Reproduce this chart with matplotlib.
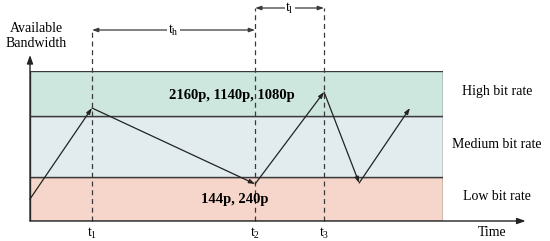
import matplotlib
matplotlib.use("Agg")
import matplotlib.pyplot as plt
from matplotlib.patches import Rectangle

plt.rcParams['font.family'] = ['Liberation Serif', 'DejaVu Serif']
plt.rcParams['mathtext.fontset'] = 'custom'
plt.rcParams['mathtext.rm'] = 'Liberation Serif'

# ---- data ----
band_names = ["Low bit rate", "Medium bit rate", "High bit rate"]
band_edges = [0, 44, 105, 150]          # bandwidth boundaries
band_colors = ["#f6d6ca", "#e2ecef", "#cde7df"]
band_notes = ["144p, 240p", "", "2160p, 1140p, 1080p"]

path_time = [0.0, 1.5, 5.45, 7.12, 7.97, 9.2]
path_bw = [22, 113, 37, 129, 38, 113]

mark_times = [1.5, 5.45, 7.12]
mark_labels = [r"$\mathregular{t_1}$", r"$\mathregular{t_2}$", r"$\mathregular{t_3}$"]
span_labels = [r"$\mathregular{t_h}$", r"$\mathregular{t_l}$"]

t_max = 10
x_arrow_end = 12
y_arrow_end = 166

fig = plt.figure(figsize=(5.5, 2.41), dpi=100)
ax = fig.add_axes([30/550, 20/241, 413/550, 150/241])
ax.set_xlim(0, t_max)
ax.set_ylim(0, 150)
ax.axis('off')

edge = "#3a3a3a"
fs = 10

# bands
for i, name in enumerate(band_names):
    lo, hi = band_edges[i], band_edges[i+1]
    ax.add_patch(Rectangle((0, lo), t_max, hi - lo, facecolor=band_colors[i],
                           edgecolor=edge, lw=1.0, zorder=1))
    ax.text(t_max + 1.3, (lo + hi) / 2 + 2, name, ha='center', va='center',
            fontsize=fs, clip_on=False)

# notes in bands
ax.text(4.9, 126, band_notes[2], ha='center', va='center', fontsize=10.5,
        fontweight='bold', zorder=5)
ax.text(4.95, 21, band_notes[0], ha='center', va='center', fontsize=10.5,
        fontweight='bold', zorder=5)

# dashed time markers
tops = [191, 213, 213]
for t, top, lab in zip(mark_times, tops, mark_labels):
    ax.plot([t, t], [0, top], ls=(0, (4, 3)), color=edge, lw=0.9, zorder=3,
            clip_on=False)
    ax.text(t, -12, lab, ha='center', va='center', fontsize=fs, clip_on=False)

# span arrows
spans = [(mark_times[0], mark_times[1], 191), (mark_times[1], mark_times[2], 213)]
for (a, b, y), lab in zip(spans, span_labels):
    ax.annotate("", xy=(a, y), xytext=(b, y),
                arrowprops=dict(arrowstyle="<|-|>,head_length=0.35,head_width=0.12",
                                color=edge, lw=0.9, shrinkA=0, shrinkB=0),
                annotation_clip=False)
    ax.text((a + b) / 2, y, lab, ha='center', va='center', fontsize=fs,
            bbox=dict(facecolor='white', edgecolor='none', pad=0.5), clip_on=False)

# axes arrows
ax.annotate("", xy=(x_arrow_end, 0), xytext=(0, 0),
            arrowprops=dict(arrowstyle="-|>,head_length=0.5,head_width=0.18",
                            color="#222222", lw=1.0, shrinkA=0, shrinkB=0),
            annotation_clip=False)
ax.annotate("", xy=(0, y_arrow_end), xytext=(0, 0),
            arrowprops=dict(arrowstyle="-|>,head_length=0.5,head_width=0.18",
                            color="#222222", lw=1.0, shrinkA=0, shrinkB=0),
            annotation_clip=False)
ax.text(0.15, 185, "Available\nBandwidth", ha='center', va='center', fontsize=fs,
        linespacing=1.2, clip_on=False)
ax.text(11.2, -12, "Time", ha='center', va='center', fontsize=fs, clip_on=False)

# bandwidth path
for i in range(len(path_time) - 1):
    ax.annotate("", xy=(path_time[i+1], path_bw[i+1]), xytext=(path_time[i], path_bw[i]),
                arrowprops=dict(arrowstyle="-|>,head_length=0.35,head_width=0.12",
                                color="#222222", lw=0.9, shrinkA=0, shrinkB=0),
                zorder=4)

fig.savefig("out.png", dpi=100)
